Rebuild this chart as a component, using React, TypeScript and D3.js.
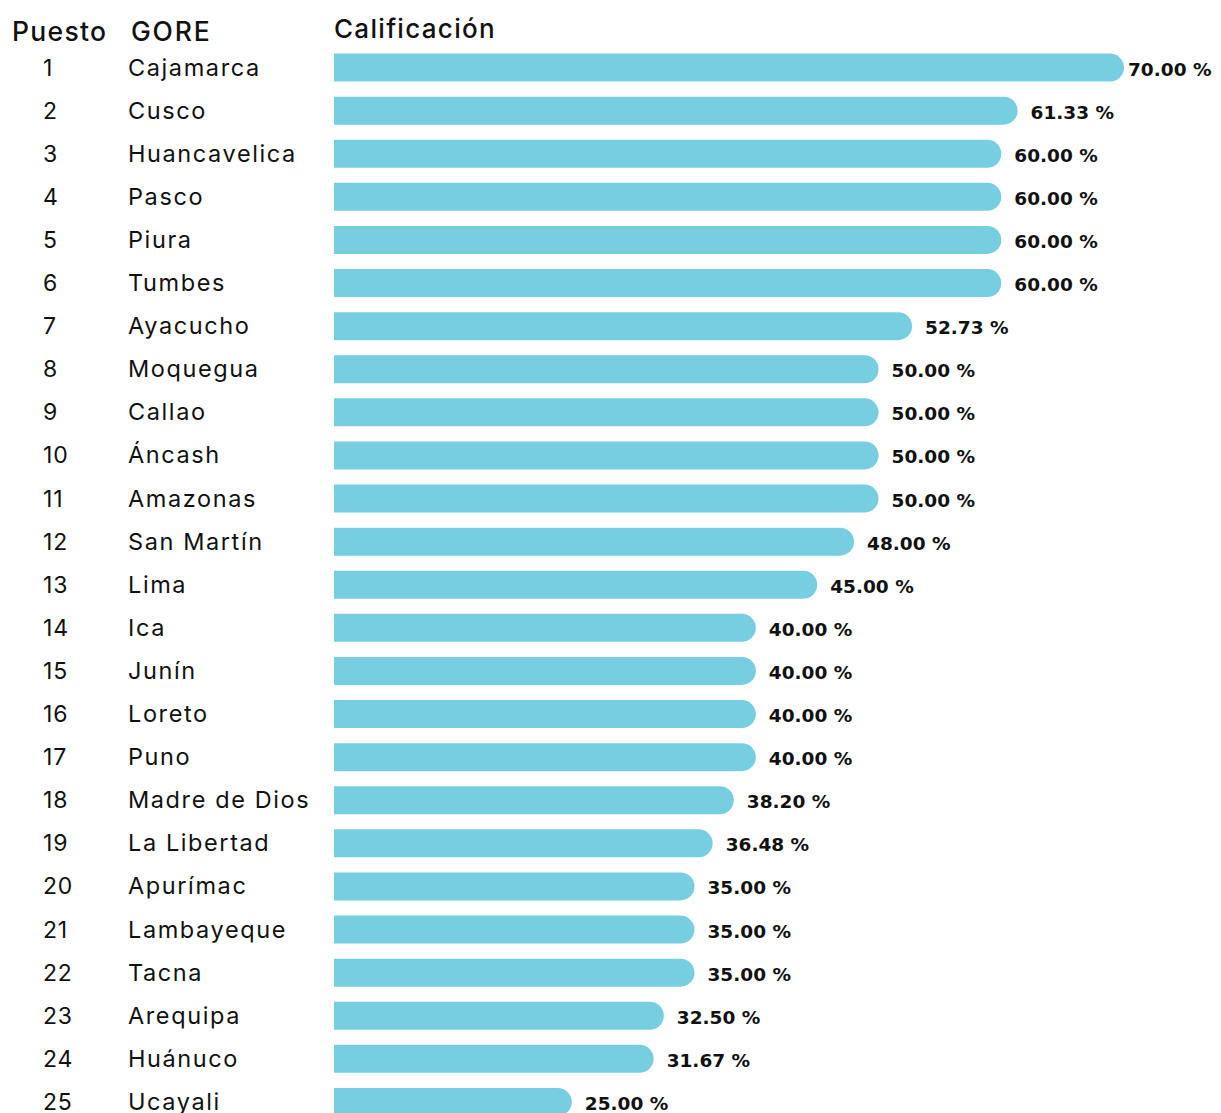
import React from "react";
import * as d3 from "d3";

const ranks = [1,2,3,4,5,6,7,8,9,10,11,12,13,14,15,16,17,18,19,20,21,22,23,24,25];
const regions = ["Cajamarca","Cusco","Huancavelica","Pasco","Piura","Tumbes","Ayacucho","Moquegua","Callao","Áncash","Amazonas","San Martín","Lima","Ica","Junín","Loreto","Puno","Madre de Dios","La Libertad","Apurímac","Lambayeque","Tacna","Arequipa","Huánuco","Ucayali"];
const scores = [70.0,61.33,60.0,60.0,60.0,60.0,52.73,50.0,50.0,50.0,50.0,48.0,45.0,40.0,40.0,40.0,40.0,38.2,36.48,35.0,35.0,35.0,32.5,31.67,25.0];
const headers = ["Puesto","GORE","Calificación"];

const W = 1221, H = 1121;
const FONT = "Inter, 'Noto Sans', sans-serif";
const NUMFONT = "'DejaVu Sans', sans-serif";

export default function App() {
  const x = d3.scaleLinear().domain([0, 70]).range([265, 1124]);
  const y = d3.scaleBand<number>().domain(ranks).range([46, 46 + 43.1 * 25]).paddingInner(0.35).paddingOuter(0.175);
  const barLeft = 334;
  const bh = y.bandwidth();
  return (
    <svg width={W} height={H} style={{ display: "block", marginLeft: -8, marginTop: -8 }}>
      <defs>
        <clipPath id="barclip"><rect x={barLeft} y={0} width={W} height={H + 20} /></clipPath>
      </defs>
      <text x={12} y={41} fontFamily={FONT} fontSize={26.5} fontWeight={500} fill="#111" letterSpacing={1.3}>{headers[0]}</text>
      <text x={131} y={41} fontFamily={FONT} fontSize={26.5} fontWeight={500} fill="#111" letterSpacing={1.8}>{headers[1]}</text>
      <text x={334} y={38} fontFamily={FONT} fontSize={26} fontWeight={500} fill="#111" letterSpacing={1.3}>{headers[2]}</text>
      <g clipPath="url(#barclip)">
        {ranks.map((r, i) => (
          <rect key={r} x={x(0)} y={y(r)} width={x(scores[i]) - x(0)} height={bh} rx={bh / 2} fill="#77cee0" />
        ))}
      </g>
      {ranks.map((r, i) => {
        const cy = (y(r) as number) + bh / 2;
        const lx = Math.min(x(scores[i]) + 13, 1128);
        return (
          <g key={r}>
            <text x={43} y={cy + 8} fontFamily={FONT} fontSize={23} fill="#111" letterSpacing={0.8}>{r}</text>
            <text x={128} y={cy + 8} fontFamily={FONT} fontSize={23.5} fill="#111" letterSpacing={1.6}>{regions[i]}</text>
            <text x={lx} y={cy + 8} fontFamily={NUMFONT} fontSize={18.5} fontWeight={700} fill="#111">{scores[i].toFixed(2) + " %"}</text>
          </g>
        );
      })}
    </svg>
  );
}
